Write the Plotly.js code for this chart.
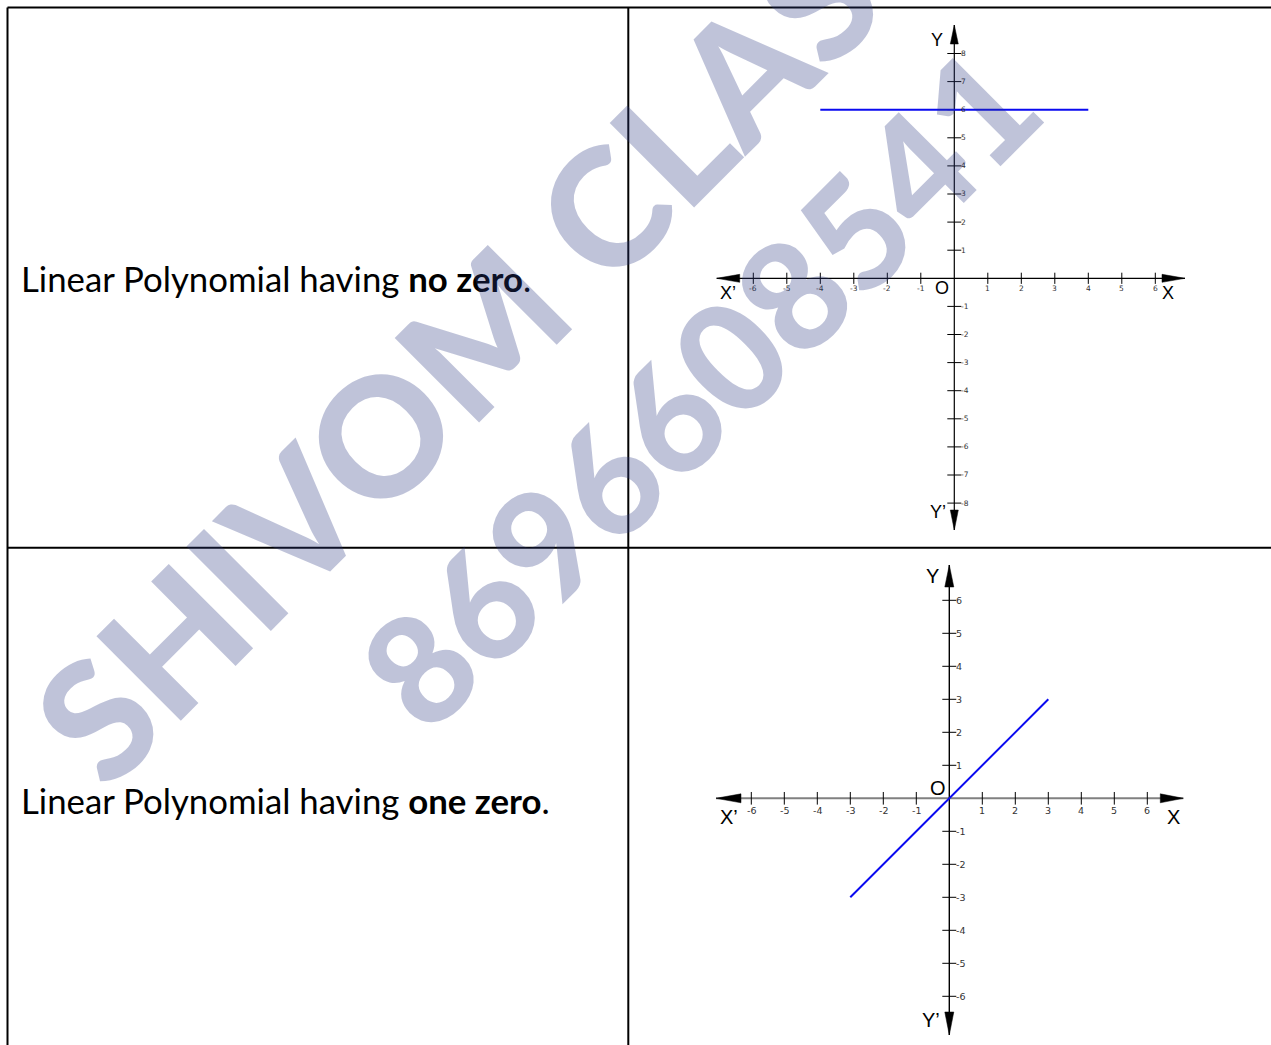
<!DOCTYPE html>
<html><head><meta charset="utf-8">
<script src="https://cdn.plot.ly/plotly-3.0.1.min.js"></script>
<style>html,body{margin:0;padding:0;background:#fff;overflow:hidden;} #chart{width:1271px;height:1045px;}</style>
</head><body><div id="chart"></div>
<script>
// ---------------- data ----------------
const rowTextPlain = ['Linear Polynomial having ', 'Linear Polynomial having '];
const rowTextBold = ['no zero', 'one zero'];
const rowTextEnd = ['.', '.'];
const g1XTicks = [-6, -5, -4, -3, -2, -1, 1, 2, 3, 4, 5, 6];
const g1YTicks = [-8, -7, -6, -5, -4, -3, -2, -1, 1, 2, 3, 4, 5, 6, 7, 8];
const g1LineX = [-4, 4];
const g1LineY = [6, 6];
const g2XTicks = [-6, -5, -4, -3, -2, -1, 1, 2, 3, 4, 5, 6];
const g2YTicks = [-6, -5, -4, -3, -2, -1, 1, 2, 3, 4, 5, 6];
const g2LineX = [-3, 3];
const g2LineY = [-3, 3];
const axisNames = {xNeg: 'X\u2019', xPos: 'X', yPos: 'Y', yNeg: 'Y\u2019', origin: 'O'};
const watermarkName = 'SHIVOM CLASSES';
const watermarkPhone = '8696608541';

// ---------------- geometry ----------------
const W = 1271, H = 1045;
const graphs = [
  {xa: 'x', ya: 'y', ox: 954.3, oy: 278.3, ux: 33.5, uy: 28.1, xr: [-8, 8], yr: [-9.6, 9.6],
   xTicks: g1XTicks, yTicks: g1YTicks, lineX: g1LineX, lineY: g1LineY,
   tips: {l: -237.6, r: 230.7, u: -253.3, d: 251.7}, heads: {l: 23, r: 23, u: 19, d: 20}, hw: 4,
   xAxisColor: '#000', xAxisWidth: 1.2, yAxisWidth: 1.2, tickX: 8, tickY: 10,
   tickFont: 7.5, xLabShift: -10, yLabShift: 6, letterFont: 18, originFont: 18,
   pos: {xNeg: [-226.3, 14.7], xPos: [213.4, 14.7], yPos: [-17.6, -238.3], yNeg: [-16.3, 233.7], origin: [-12.3, 9.7]}},
  {xa: 'x2', ya: 'y2', ox: 949.3, oy: 798.3, ux: 33, uy: 33, xr: [-8, 8], yr: [-7.4, 7.4],
   xTicks: g2XTicks, yTicks: g2YTicks, lineX: g2LineX, lineY: g2LineY,
   tips: {l: -233.3, r: 234, u: -233.3, d: 236.7}, heads: {l: 25, r: 23, u: 22, d: 23}, hw: 4.5,
   xAxisColor: '#808080', xAxisWidth: 2, yAxisWidth: 1.4, tickX: 9, tickY: 10,
   tickFont: 9.5, xLabShift: -12, yLabShift: 6, letterFont: 20, originFont: 20,
   pos: {xNeg: [-220.3, 18.4], xPos: [224, 18.4], yPos: [-17, -222.3], yNeg: [-18.3, 221.7], origin: [-11.6, -10.6]}}
];

function measure(text, weight, family) {
  const c = document.createElement('canvas').getContext('2d');
  c.font = weight + ' 100px "' + family + '"';
  return c.measureText(text).width / 100;
}

const traces = [];
const annotations = [];
const layout = {
  width: W, height: H, margin: {l: 0, r: 0, t: 0, b: 0},
  paper_bgcolor: '#fff', plot_bgcolor: 'rgba(0,0,0,0)', showlegend: false,
  shapes: [], annotations: annotations
};

graphs.forEach((g, i) => {
  const sfx = i === 0 ? '' : '2';
  layout['xaxis' + sfx] = {range: g.xr, visible: false, fixedrange: true, anchor: g.ya,
    domain: [(g.ox + g.xr[0] * g.ux) / W, (g.ox + g.xr[1] * g.ux) / W]};
  layout['yaxis' + sfx] = {range: g.yr, visible: false, fixedrange: true, anchor: g.xa,
    domain: [1 - (g.oy - g.yr[0] * g.uy) / H, 1 - (g.oy - g.yr[1] * g.uy) / H]};
  const dx = p => p / g.ux, dy = p => -p / g.uy;
  const base = {xaxis: g.xa, yaxis: g.ya, hoverinfo: 'skip', cliponaxis: false};
  // axes lines
  traces.push(Object.assign({type: 'scatter', mode: 'lines', x: [dx(g.tips.l), dx(g.tips.r)], y: [0, 0],
    line: {color: g.xAxisColor, width: g.xAxisWidth}}, base));
  traces.push(Object.assign({type: 'scatter', mode: 'lines', x: [0, 0], y: [dy(g.tips.d), dy(g.tips.u)],
    line: {color: '#000', width: g.yAxisWidth}}, base));
  // arrowheads
  const heads = [
    [[g.tips.l, 0], [g.tips.l + g.heads.l, -g.hw], [g.tips.l + g.heads.l, g.hw]],
    [[g.tips.r, 0], [g.tips.r - g.heads.r, -g.hw], [g.tips.r - g.heads.r, g.hw]],
    [[0, g.tips.u], [-g.hw, g.tips.u + g.heads.u], [g.hw, g.tips.u + g.heads.u]],
    [[0, g.tips.d], [-g.hw, g.tips.d - g.heads.d], [g.hw, g.tips.d - g.heads.d]]
  ];
  heads.forEach(h => {
    traces.push(Object.assign({type: 'scatter', mode: 'lines', fill: 'toself', fillcolor: '#000',
      x: h.map(p => dx(p[0])).concat([dx(h[0][0])]), y: h.map(p => dy(p[1])).concat([dy(h[0][1])]),
      line: {color: '#000', width: 0.5}}, base));
  });
  // ticks
  traces.push(Object.assign({type: 'scatter', mode: 'markers', x: g.xTicks, y: g.xTicks.map(() => 0),
    marker: {symbol: 'line-ns', size: g.tickX, line: {color: '#000', width: 1}}}, base));
  traces.push(Object.assign({type: 'scatter', mode: 'markers', x: g.yTicks.map(() => 0), y: g.yTicks,
    marker: {symbol: 'line-ew', size: g.tickY, line: {color: '#000', width: 1}}}, base));
  // function line
  traces.push(Object.assign({type: 'scatter', mode: 'lines', x: g.lineX, y: g.lineY,
    line: {color: '#0a0af0', width: 2}}, base));
  // tick labels
  g.xTicks.forEach(t => annotations.push({xref: g.xa, yref: g.ya, x: t, y: 0, text: String(t), showarrow: false,
    xanchor: 'center', yanchor: 'middle', yshift: g.xLabShift, borderpad: 0,
    font: {family: 'DejaVu Sans', size: g.tickFont, color: '#333'}}));
  g.yTicks.forEach(t => annotations.push({xref: g.xa, yref: g.ya, x: 0, y: t, text: String(t), showarrow: false,
    xanchor: 'left', yanchor: 'middle', xshift: g.yLabShift, borderpad: 0,
    font: {family: 'DejaVu Sans', size: g.tickFont, color: '#333'}}));
  // axis names
  Object.keys(axisNames).forEach(k => annotations.push({xref: g.xa, yref: g.ya, x: 0, y: 0, text: axisNames[k],
    showarrow: false, xanchor: 'center', yanchor: 'middle', xshift: g.pos[k][0], yshift: -g.pos[k][1], borderpad: 0,
    font: {family: 'Liberation Sans', size: k === 'origin' ? g.originFont : g.letterFont, color: '#000'}}));
});

// table lines
const px = v => v / W, py = v => 1 - v / H;
[[7.5, 7.5, W, 7.5], [7.5, 7.5, 7.5, H], [628.3, 7.5, 628.3, H], [7.5, 547.7, W, 547.7]].forEach(l => {
  layout.shapes.push({type: 'line', xref: 'paper', yref: 'paper', x0: px(l[0]), y0: py(l[1]), x1: px(l[2]), y1: py(l[3]),
    line: {color: '#000', width: 2}, layer: 'above'});
});

// row texts (fit to measured widths)
const rowFont = 'Lato';
const wRow0 = measure(rowTextPlain[0], 400, rowFont) + measure(rowTextBold[0], 700, rowFont) + measure(rowTextEnd[0], 400, rowFont);
const rowSize = 511 / wRow0;
const rowY = [278, 800];
rowTextPlain.forEach((t, i) => annotations.push({xref: 'paper', yref: 'paper', x: px(20), y: py(rowY[i]),
  text: t + '<b>' + rowTextBold[i] + '</b>' + rowTextEnd[i], showarrow: false, xanchor: 'left', yanchor: 'middle', borderpad: 0,
  font: {family: rowFont, size: rowSize, color: '#000'}}));

// watermark
const wmFont = 'Lato';
const nameSize = 1.05 * 671 / measure('SHIVOM ', 700, wmFont);
const phoneSize = 1.09 * 808 / measure(watermarkPhone, 700, wmFont);
const r2 = Math.SQRT2;
function uvToPaper(u, v) { return [px((u + v) / r2), py((v - u) / r2)]; }
const nameW = measure(watermarkName, 700, wmFont) * nameSize;
const nameC = uvToPaper(-482 + nameW / 2, 623 - 0.30 * nameSize);
const phoneW = measure(watermarkPhone, 700, wmFont) * phoneSize;
const phoneC = uvToPaper(-176 - 0.5 * phoneW / 10 + phoneW / 2, 761 + 0.03 * phoneSize);
const wmColor = 'rgba(42,55,128,0.3)';
annotations.push({xref: 'paper', yref: 'paper', x: nameC[0], y: nameC[1], text: watermarkName, textangle: -45,
  showarrow: false, xanchor: 'center', yanchor: 'middle', font: {family: wmFont, size: nameSize, color: wmColor, weight: 900}});
annotations.push({xref: 'paper', yref: 'paper', x: phoneC[0], y: phoneC[1], text: watermarkPhone, textangle: -45,
  showarrow: false, xanchor: 'center', yanchor: 'middle', font: {family: wmFont, size: phoneSize, color: wmColor, weight: 900}});

Plotly.newPlot('chart', traces, layout, {staticPlot: true, displayModeBar: false});
</script>
</body></html>
